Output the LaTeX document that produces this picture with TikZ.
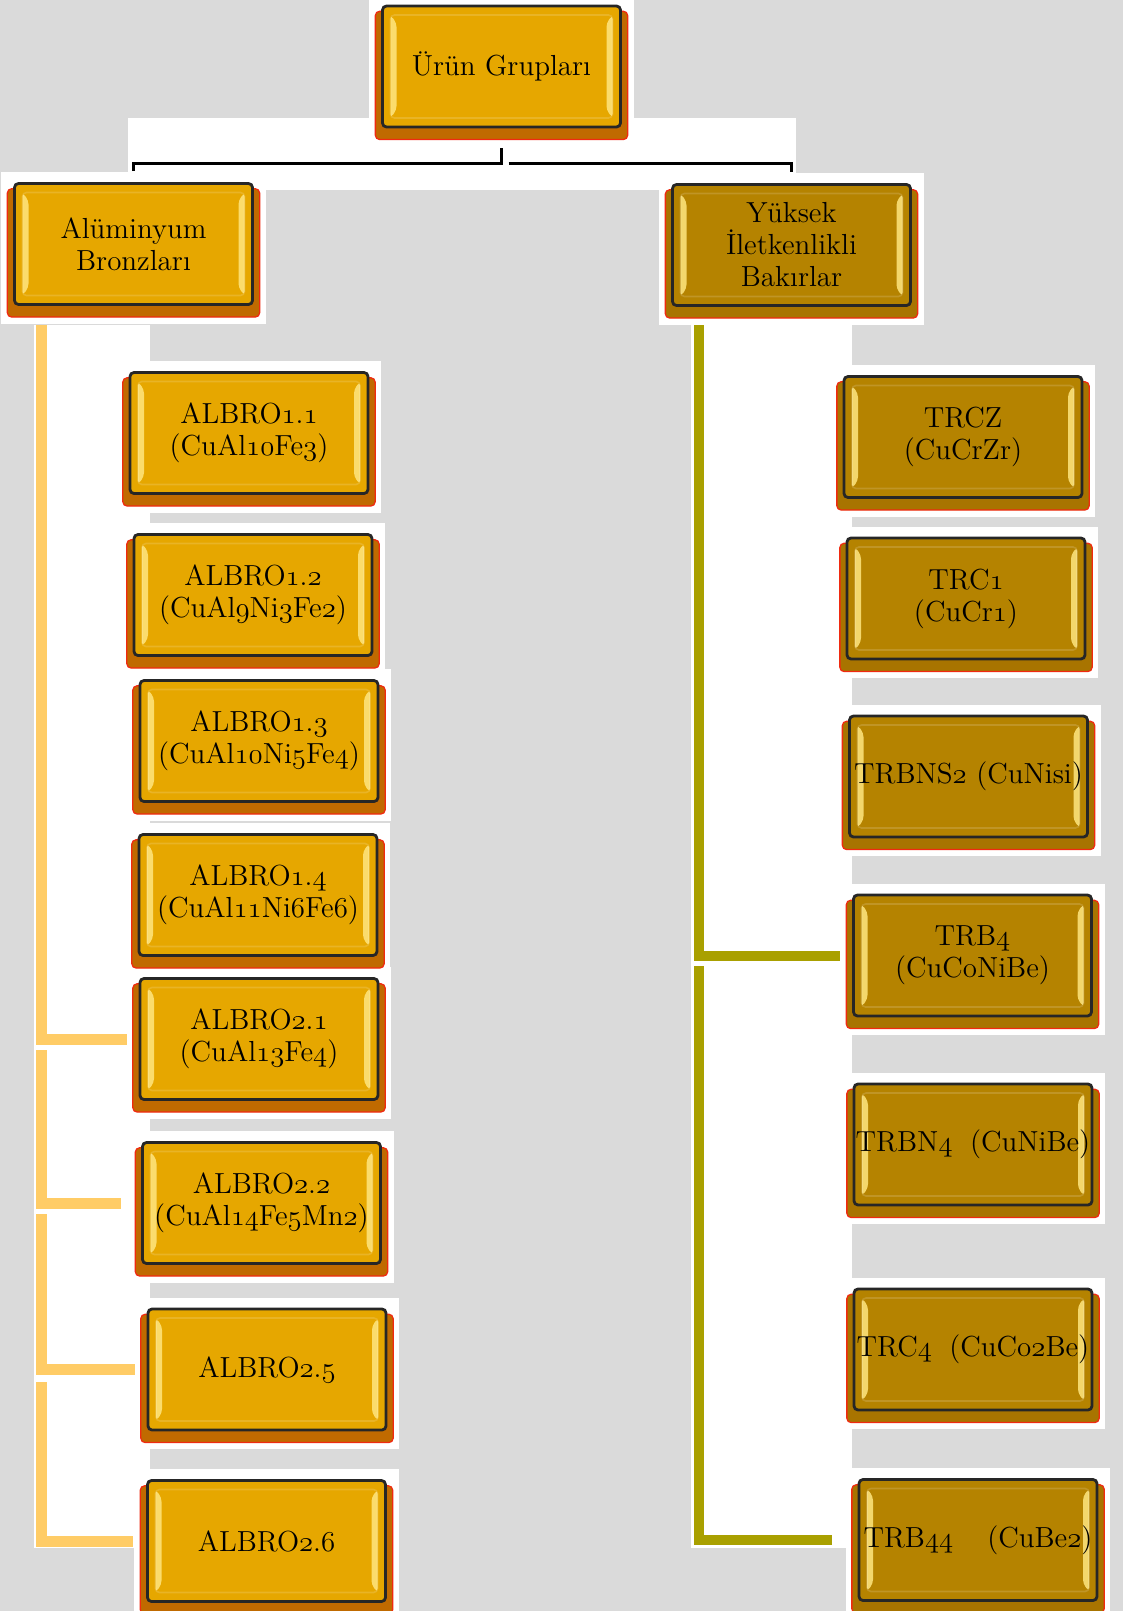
\documentclass[tikz,border=0pt]{standalone}
\usetikzlibrary{shadows,backgrounds,calc}
\definecolor{bggray}{HTML}{DADADA}
\definecolor{goldfill}{HTML}{E6A700}
\definecolor{goldshade}{HTML}{C06A00}
\definecolor{bronzefill}{HTML}{B58300}
\definecolor{bronzeshade}{HTML}{A87400}
\definecolor{edgered}{HTML}{F02A10}
\definecolor{hilite}{HTML}{FFE680}
\definecolor{albcol}{HTML}{FFCC66}
\definecolor{trcol}{HTML}{A9A000}
\newcommand{\osn}[1]{{\usefont{OML}{cmm}{m}{it}#1}}
\newcommand{\boxfont}{\fontsize{14.5}{16}\selectfont}
\tikzset{
  hilites/.style={path picture={
      \coordinate (pnw) at (path picture bounding box.north west);
      \coordinate (pse) at (path picture bounding box.south east);
      \coordinate (psw) at (pnw |- pse);
      \coordinate (pne) at (pse |- pnw);
      \fill[hilite, opacity=0.85] ([shift={(4pt,-4.5pt)}]pnw) -- ([shift={(7pt,-8.5pt)}]pnw) -- ([shift={(7pt,8.5pt)}]psw) -- ([shift={(4pt,4.5pt)}]psw) -- cycle;
      \fill[hilite, opacity=0.85] ([shift={(-4pt,-4.5pt)}]pne) -- ([shift={(-7pt,-8.5pt)}]pne) -- ([shift={(-7pt,8.5pt)}]pse) -- ([shift={(-4pt,4.5pt)}]pse) -- cycle;
      \draw[white, opacity=0.15, line width=0.8pt] ([shift={(4pt,-4.5pt)}]pnw) rectangle ([shift={(-4pt,4.5pt)}]pse);
    }},
  boxbase/.style={draw=black!85, line width=1.4pt, rounded corners=2pt, minimum width=119pt, minimum height=60.5pt, inner sep=0pt, align=center, font=\boxfont, hilites},
  albbox/.style={boxbase, fill=goldfill, general shadow={fill=goldshade, draw=edgered, line width=0.6pt, shadow scale=1.06, shadow yshift=-4.2pt}},
  trbox/.style={boxbase, fill=bronzefill, general shadow={fill=bronzeshade, draw=edgered, line width=0.6pt, shadow scale=1.06, shadow yshift=-4.2pt}},
  bracketline/.style={draw=black, line width=1.4pt},
  albtrunk/.style={draw=albcol, line width=5.5pt},
  trtrunk/.style={draw=trcol, line width=5pt}
}
\begin{document}
\begin{tikzpicture}[x=0.5pt, y=-0.5pt]
\useasboundingbox (0,0) rectangle (1123,1611);

% top
\node[albbox] (root) at (501.5,66.5) {Ürün Grupları};
\node[albbox] (alb) at (133.5,244) {Alüminyum\\Bronzları};
\node[trbox] (yuk) at (791.5,245) {Yüksek\\İletkenlikli\\Bakırlar};

% aluminyum bronzlari
\node[albbox] (a11) at (249,433) {ALBRO\osn{1}.\osn{1}\\(CuAl\osn{10}Fe\osn{3})};
\node[albbox] (a12) at (253,595) {ALBRO\osn{1}.\osn{2}\\(CuAl\osn{9}Ni\osn{3}Fe\osn{2})};
\node[albbox] (a13) at (259,741) {ALBRO\osn{1}.\osn{3}\\(CuAl\osn{10}Ni\osn{5}Fe\osn{4})};
\node[albbox] (a14) at (258,895) {ALBRO\osn{1}.\osn{4}\\(CuAl\osn{11}Ni\osn{6}Fe\osn{6})};
\node[albbox] (a21) at (259,1039) {ALBRO\osn{2}.\osn{1}\\(CuAl\osn{13}Fe\osn{4})};
\node[albbox] (a22) at (261.5,1203) {ALBRO\osn{2}.\osn{2}\\(CuAl\osn{14}Fe\osn{5}Mn\osn{2})};
\node[albbox] (a25) at (267,1369.5) {ALBRO\osn{2}.\osn{5}};
\node[albbox] (a26) at (266.5,1541) {ALBRO\osn{2}.\osn{6}};

% yuksek iletkenlikli bakirlar
\node[trbox] (trcz) at (963,437) {TRCZ\\(CuCrZr)};
\node[trbox] (trc1) at (966,598.5) {TRC\osn{1}\\(CuCr\osn{1})};
\node[trbox] (trbns2) at (968.5,776.5) {TRBNS\osn{2} (CuNisi)};
\node[trbox] (trb4) at (972.5,955.5) {TRB\osn{4}\\(CuCoNiBe)};
\node[trbox] (trbn4) at (973,1144.5) {TRBN\osn{4}\hspace{0.6em}(CuNiBe)};
\node[trbox] (trc4) at (973,1349.5) {TRC\osn{4}\hspace{0.6em}(CuCo\osn{2}Be)};
\node[trbox] (trb44) at (978,1540) {TRB\osn{44}\hspace{17pt}(CuBe\osn{2})};

% background and white patches
\begin{scope}[on background layer]
  \fill[bggray] (0,0) rectangle (1123,1611);
  \fill[white] (34,325) rectangle (150,1548);
  \fill[white] (691,325) rectangle (852,1548);
  \fill[white] (128,118) rectangle (796,190);
  \foreach \n in {root,alb,yuk,a11,a12,a13,a14,a21,a22,a25,a26,trcz,trc1,trbns2,trb4,trbn4,trc4,trb44}
    \fill[white] ([shift={(-6pt,5pt)}]\n.north west) rectangle ([shift={(6pt,-9pt)}]\n.south east);
\end{scope}

% connectors
\coordinate (brk) at ($(root.south)+(0,35)$);
\draw[bracketline] ([yshift=5.5pt]alb.north) |- (brk) -- ([yshift=-10pt]root.south);
\draw[bracketline] ([xshift=3.5pt]brk) -| ([yshift=5.5pt]yuk.north);

\coordinate (albtop) at (41,325);
\coordinate (alb2) at (41,1050);
\coordinate (alb3) at (41,1214);
\coordinate (alb4) at (41,1382);
\draw[albtrunk] (albtop) |- ([xshift=-6pt]a21.west);
\draw[albtrunk] (alb2) |- ([xshift=-10pt]a22.west);
\draw[albtrunk] (alb3) |- ([xshift=-6pt]a25.west);
\draw[albtrunk] (alb4) |- ([xshift=-6.5pt]a26.west);

\coordinate (trtop) at (699,325);
\coordinate (trmid) at (699,966);
\draw[trtrunk] (trtop) |- ([xshift=-6pt]trb4.west);
\draw[trtrunk] (trmid) |- ([xshift=-13pt]trb44.west);
\end{tikzpicture}
\end{document}
